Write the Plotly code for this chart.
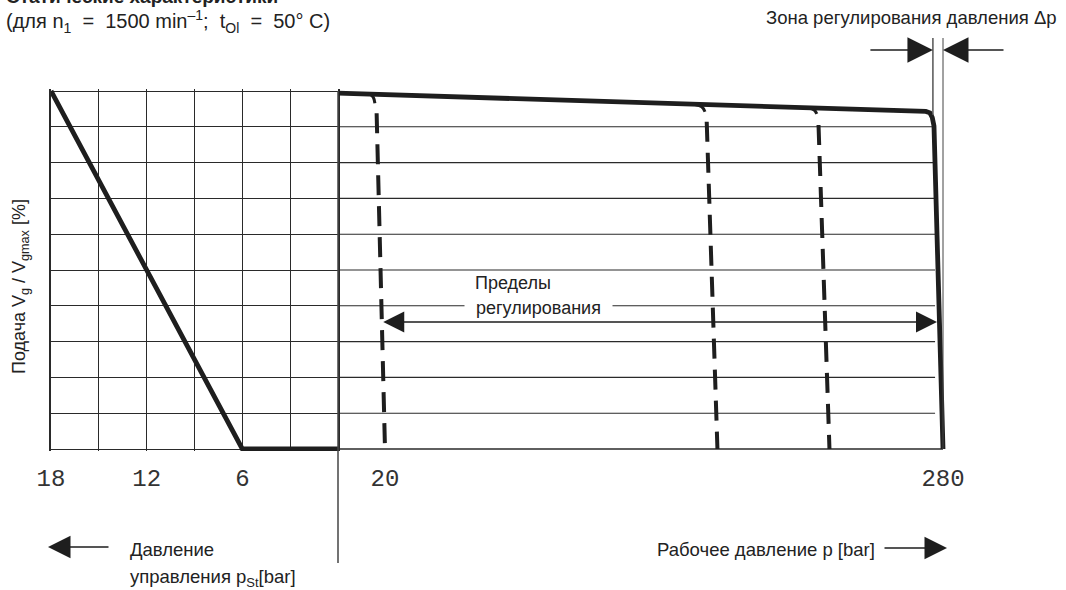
import plotly.graph_objects as go

# ---- data ----
# left panel: control pressure p_St [bar], axis runs 18 -> 0
PST_TICKS = [18, 15, 12, 9, 6, 3, 0]
PST_LABELS = ["18", "", "12", "", "6", "", ""]
PST_LINE = [18, 6, 0]
PST_FLOW = [100, 0, 0]

# right panel: working pressure p [bar]
P_TICKS = [20, 280]
P_LABELS = ["20", "280"]
CURVE_P = [-1.9, 272.0, 273.9, 275.0, 275.8, 280.0]
CURVE_Q = [99.4, 94.3, 93.9, 92.6, 90.2, 0.0]

# regulator settings: short solid hook off the main curve + dashed drop
HOOK_P = [[13.0, 14.5, 15.3], [164.5, 167.6, 169.1], [217.3, 220.0, 221.2]]
HOOK_Q = [[99.1, 98.3, 96.6], [96.25, 95.6, 94.2], [95.26, 94.7, 93.6]]
DROP_P = [[16.1, 20.0], [169.9, 174.9], [222.0, 227.1]]
DROP_Q = [[93.8, 0.0], [91.4, 0.0], [90.5, 0.0]]

FLOW_LEVELS = [10, 20, 30, 40, 50, 60, 70, 80, 90]
GRID_END = 276.3
BASE_END = 280.0
RANGE_ARROW_P = [18.5, 277.2]
RANGE_ARROW_Q = 35.5
DP_ZONE = [275.3, 280.0]

# ---- layout helpers (pixel -> paper) ----
W, H = 1066, 590
X0, X1 = 51, 1010          # plot area in pixels
Y0, Y1 = 89, 451
SPLIT = 338


def fx(px):
    return (px - X0) / (X1 - X0)


def fy(py):
    return (Y1 - py) / (Y1 - Y0)


INK = "#1e1e1e"
GRID = "#2a2a2a"
TXT = "#222222"
SANS = "Liberation Sans, Arial, sans-serif"
MONO = "Liberation Mono, Courier New, monospace"

fig = go.Figure()

# left panel line
fig.add_trace(go.Scatter(
    x=PST_LINE, y=PST_FLOW, xaxis="x", yaxis="y", mode="lines",
    line=dict(color=INK, width=4.8),
))

# right panel grid lines
for q in FLOW_LEVELS:
    fig.add_trace(go.Scatter(
        x=[CURVE_P[0], GRID_END], y=[q, q], xaxis="x2", yaxis="y2",
        mode="lines", line=dict(color=GRID, width=1.1),
    ))
fig.add_trace(go.Scatter(
    x=[CURVE_P[0], BASE_END], y=[0, 0], xaxis="x2", yaxis="y2",
    mode="lines", line=dict(color=GRID, width=1.5),
))

# regulator lines
for hp, hq, dp, dq in zip(HOOK_P, HOOK_Q, DROP_P, DROP_Q):
    fig.add_trace(go.Scatter(
        x=hp, y=hq, xaxis="x2", yaxis="y2", mode="lines",
        line=dict(color=INK, width=3, shape="spline"),
    ))
    fig.add_trace(go.Scatter(
        x=dp, y=dq, xaxis="x2", yaxis="y2", mode="lines",
        line=dict(color=INK, width=4, dash="20px,11px"),
    ))

# main characteristic
fig.add_trace(go.Scatter(
    x=CURVE_P, y=CURVE_Q, xaxis="x2", yaxis="y2", mode="lines",
    line=dict(color=INK, width=4.8),
))

ypad = 2 / 3.58
p_lo = 20 - (385 - SPLIT) / 2.1462
p_hi = 280 + (X1 - 943) / 2.1462

tick_font = dict(family=MONO, size=24, color="#333333")
fig.update_layout(
    width=W, height=H,
    margin=dict(l=X0, r=W - X1, t=Y0, b=H - Y1),
    paper_bgcolor="white", plot_bgcolor="rgba(0,0,0,0)",
    showlegend=False, hovermode=False,
    xaxis=dict(
        domain=[0, fx(SPLIT)], range=[18, 0], tickvals=PST_TICKS, ticktext=PST_LABELS,
        showgrid=True, gridcolor=GRID, gridwidth=1, zeroline=False, ticks="",
        tickfont=tick_font, ticklabelstandoff=10, anchor="y",
    ),
    yaxis=dict(
        domain=[0, 1], range=[-ypad, 100 + ypad], dtick=10, showgrid=True,
        gridcolor=GRID, gridwidth=1, zeroline=False, showticklabels=False,
        showline=True, mirror=True, linecolor=GRID, linewidth=1.5, anchor="x",
    ),
    xaxis2=dict(
        domain=[fx(SPLIT), 1], range=[p_lo, p_hi], tickvals=P_TICKS, ticktext=P_LABELS,
        showgrid=False, zeroline=False, ticks="", tickfont=tick_font,
        ticklabelstandoff=10, anchor="y2",
    ),
    yaxis2=dict(
        domain=[0, 1], range=[-ypad, 100 + ypad], showgrid=False, zeroline=False,
        showticklabels=False, anchor="x2",
    ),
)

# panel separator running down into the bottom labels
fig.add_shape(type="line", xref="paper", yref="paper", x0=fx(SPLIT), x1=fx(SPLIT),
              y0=fy(563), y1=fy(91), line=dict(color="#444444", width=1.5))

# pressure regulation zone lines
fig.add_shape(type="line", xref="x2", yref="paper", x0=DP_ZONE[0], x1=DP_ZONE[0],
              y0=fy(115), y1=fy(38), line=dict(color="#555555", width=1.5))
fig.add_shape(type="line", xref="x2", yref="paper", x0=DP_ZONE[1], x1=DP_ZONE[1],
              y0=fy(449), y1=fy(38), line=dict(color="#444444", width=1))

arrow = dict(showarrow=True, arrowhead=2, arrowwidth=1.5, arrowcolor=INK, text="",
             standoff=0)
fig.add_annotation(x=DP_ZONE[0], y=fy(50), xref="x2", yref="paper",
                   ax=-64, ay=0, arrowsize=3.4, **arrow)
fig.add_annotation(x=DP_ZONE[1], y=fy(50), xref="x2", yref="paper",
                   ax=62, ay=0, arrowsize=3.4, **arrow)

# regulation range double arrow
fig.add_annotation(x=RANGE_ARROW_P[1], y=RANGE_ARROW_Q, xref="x2", yref="y2",
                   ax=RANGE_ARROW_P[0], ay=RANGE_ARROW_Q, axref="x2", ayref="y2",
                   arrowside="end+start", startarrowhead=2, arrowsize=2.8,
                   startarrowsize=2.8, **arrow)

# bottom direction arrows
fig.add_annotation(x=fx(48), y=fy(547), xref="paper", yref="paper",
                   ax=62, ay=0, arrowsize=3.0, **arrow)
fig.add_annotation(x=fx(947), y=fy(548), xref="paper", yref="paper",
                   ax=-64, ay=0, arrowsize=3.0, **arrow)


def label(text, px, py, size=18.5, xanchor="left", bold=False, **kw):
    fig.add_annotation(
        text=f"<b>{text}</b>" if bold else text, x=fx(px), y=fy(py),
        xref="paper", yref="paper", showarrow=False, xanchor=xanchor,
        yanchor="middle", font=dict(family=SANS, size=size, color=TXT), **kw,
    )


label("Статические характеристики", 4, -4, size=19, bold=True)
label("(для n<sub>1</sub> &nbsp;= &nbsp;1500 min<sup>–1</sup>; &nbsp;t<sub>Ol</sub> &nbsp;= &nbsp;50° C)",
      4, 22, size=20)
label("Зона регулирования давления Δp", 1059, 17, xanchor="right")
label("Пределы", 473, 283, size=18)
label("&nbsp;&nbsp;регулирования&nbsp;&nbsp;", 464, 308, size=18, bgcolor="white")
label("Давление", 128, 549)
label("управления p<sub>St</sub>[bar]", 128, 578)
label("Рабочее давление p [bar]", 655, 549)

fig.add_annotation(
    text="Подача V<sub>g</sub> / V<sub>gmax</sub> [%]", textangle=-90,
    x=fx(20), y=fy(287), xref="paper", yref="paper", showarrow=False,
    xanchor="center", yanchor="middle", font=dict(family=SANS, size=18, color=TXT),
)

# the page body has a default 8px margin; drop it so the figure fills the window
fig.write_html("out.html", config={"displayModeBar": False},
               post_script="document.body.style.margin = '0';")
